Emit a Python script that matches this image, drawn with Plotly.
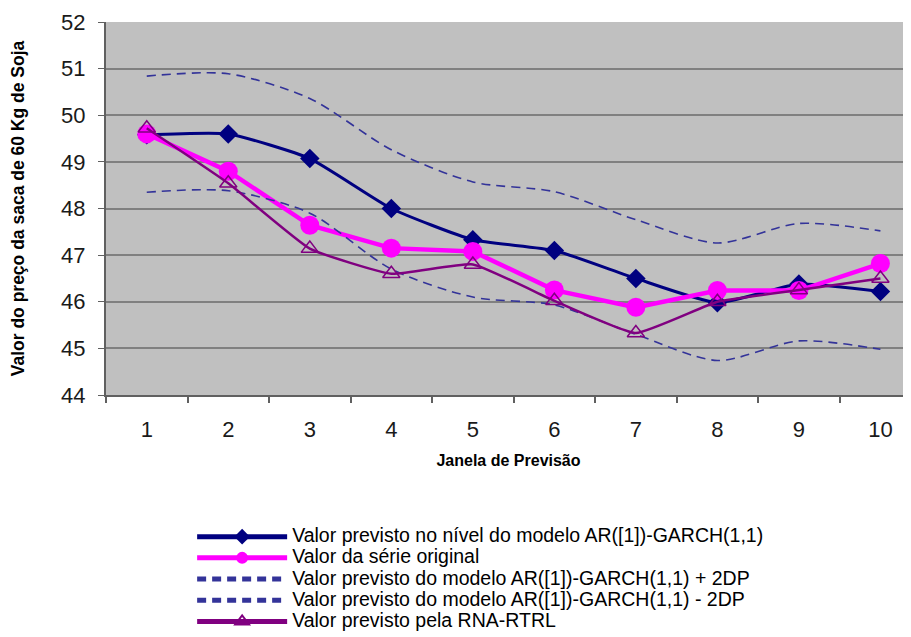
import plotly.graph_objects as go

janelas = [1, 2, 3, 4, 5, 6, 7, 8, 9, 10]
ar_garch = [49.58, 49.6, 49.07, 48.0, 47.33, 47.1, 46.5, 45.98, 46.38, 46.22]
serie_original = [49.6, 48.8, 47.64, 47.15, 47.08, 46.25, 45.88, 46.24, 46.24, 46.82]
ar_garch_mais_2dp = [50.84, 50.89, 50.36, 49.26, 48.57, 48.36, 47.76, 47.26, 47.68, 47.52]
ar_garch_menos_2dp = [48.35, 48.38, 47.9, 46.7, 46.1, 45.93, 45.3, 44.74, 45.16, 44.98]
rna_rtrl = [49.72, 48.54, 47.14, 46.6, 46.8, 46.02, 45.33, 46.0, 46.25, 46.5]

nomes = [
    "Valor previsto no nível do modelo AR([1])-GARCH(1,1)",
    "Valor da série original",
    "Valor previsto do modelo AR([1])-GARCH(1,1) + 2DP",
    "Valor previsto do modelo AR([1])-GARCH(1,1) - 2DP",
    "Valor previsto pela RNA-RTRL",
]
y_ticks = [44, 45, 46, 47, 48, 49, 50, 51, 52]


def rotulo(t):
    return '<span style="font-size:19.5px">' + t + "</span>"


fig = go.Figure()
fig.add_trace(go.Scatter(
    x=janelas, y=ar_garch, name=rotulo(nomes[0]), mode="lines+markers",
    line=dict(color="#000080", width=3, shape="spline", smoothing=0.5),
    marker=dict(symbol="diamond", size=15, color="#000080")))
fig.add_trace(go.Scatter(
    x=janelas, y=serie_original, name=rotulo(nomes[1]), mode="lines+markers",
    line=dict(color="#FF00FF", width=4.5),
    marker=dict(symbol="circle", size=19, color="#FF00FF")))
fig.add_trace(go.Scatter(
    x=janelas, y=ar_garch_mais_2dp, name=rotulo(nomes[2]), mode="lines",
    line=dict(color="#333399", width=1.6, dash="9px,6px", shape="spline", smoothing=0.8)))
fig.add_trace(go.Scatter(
    x=janelas, y=ar_garch_menos_2dp, name=rotulo(nomes[3]), mode="lines",
    line=dict(color="#333399", width=1.6, dash="9px,6px", shape="spline", smoothing=0.8)))
fig.add_trace(go.Scatter(
    x=janelas, y=rna_rtrl, name=rotulo(nomes[4]), mode="lines+markers",
    line=dict(color="#800080", width=2.5, shape="spline", smoothing=0.4),
    marker=dict(symbol="triangle-up-open", size=15, color="#800080", line=dict(width=1.5))))

fig.update_layout(
    width=903, height=629,
    margin=dict(l=98, r=0, t=14, b=242, autoexpand=False),
    paper_bgcolor="white",
    plot_bgcolor="#C0C0C0",
    font=dict(family="Liberation Sans, Arial, sans-serif", color="#000000"),
    showlegend=True,
    legend=dict(
        x=0.107, y=-0.338, xanchor="left", yanchor="top",
        font=dict(size=14, color="#000000"),
        bgcolor="rgba(0,0,0,0)", tracegroupgap=0,
        itemsizing="constant", itemwidth=90,
    ),
)
fig.update_xaxes(
    range=[0.5, 10.375], automargin=False,
    tickvals=janelas, ticktext=[str(j) for j in janelas],
    ticks="", showgrid=False, zeroline=False,
    showline=True, linecolor="#606060", linewidth=2,
    tickfont=dict(size=22, color="#1a1a1a"), ticklabelstandoff=14,
    minor=dict(tick0=0.5, dtick=1, ticks="outside", ticklen=6, tickcolor="#606060", tickwidth=1.5, showgrid=False),
    title=dict(text="<b>Janela de Previsão</b>", font=dict(size=16), standoff=13),
)
fig.update_yaxes(
    range=[44, 52], tickvals=y_ticks, automargin=False,
    ticks="outside", ticklen=6, tickcolor="#606060",
    showgrid=True, gridcolor="#808080", gridwidth=2,
    zeroline=False, showline=True, linecolor="#606060", linewidth=2,
    tickfont=dict(size=22, color="#1a1a1a"), ticklabelstandoff=8,
    title=dict(text="<b>Valor do preço da saca de 60 Kg de Soja</b>", font=dict(size=17.5), standoff=33),
)

fig.write_html("out.html")
